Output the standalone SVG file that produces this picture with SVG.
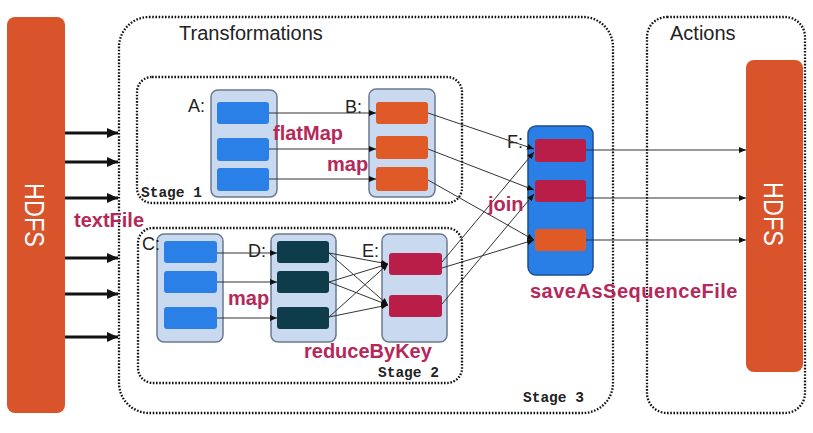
<svg xmlns="http://www.w3.org/2000/svg" width="813" height="433" viewBox="0 0 813 433">
<defs>
<style>
.hdfs{fill:#d9532b}
.cont{fill:#c9d9f0;stroke:#6b7a8f;stroke-width:1.5}
.fcont{fill:#2a7fe6;stroke:#1b4f93;stroke-width:1.5}
.blue{fill:#2b80e8}
.orange{fill:#e05a28}
.crimson{fill:#b81e48}
.teal{fill:#0e3c4b}
.dot{fill:none;stroke:#111;stroke-width:2.3;stroke-dasharray:1.6 1.6}
.lbl{font-family:"Liberation Sans",Arial,sans-serif;font-weight:bold;font-size:20px;fill:#b5285a}
.let{font-family:"Liberation Sans",Arial,sans-serif;font-size:18px;fill:#222}
.title{font-family:"Liberation Sans",Arial,sans-serif;font-size:20px;fill:#222}
.stage{font-family:"Liberation Mono","Courier New",monospace;font-weight:bold;font-size:14.5px;fill:#222}
.ht{font-family:"Liberation Sans",Arial,sans-serif;font-size:23.5px;fill:#fff}
.thin{stroke:#333;stroke-width:1;fill:none}
.thick{stroke:#111;stroke-width:3;fill:none}
</style>
<marker id="ah" markerUnits="userSpaceOnUse" markerWidth="8" markerHeight="6" refX="7" refY="3" orient="auto">
<path d="M0,0 L7,3 L0,6 z" fill="#111"/>
</marker>
<marker id="ahb" markerUnits="userSpaceOnUse" markerWidth="12" markerHeight="10" refX="11" refY="5" orient="auto">
<path d="M0,0 L11,5 L0,10 z" fill="#111"/>
</marker>
</defs>
<rect width="813" height="433" fill="#fff"/>

<g id="transformations">
<rect class="dot" x="119" y="17" width="494" height="396" rx="30"/>
<text class="title" x="179" y="40">Transformations</text>
<text class="stage" x="523" y="402">Stage 3</text>
</g>
<g id="actions">
<rect class="dot" x="647" y="17" width="158" height="396" rx="20"/>
<text class="title" x="670" y="40">Actions</text>
</g>
<g id="stage1">
<rect class="dot" x="137" y="77" width="325" height="126" rx="15"/>
<text class="stage" x="141" y="197">Stage 1</text>
</g>
<g id="stage2">
<rect class="dot" x="138" y="228" width="324" height="155" rx="15"/>
<text class="stage" x="378" y="377">Stage 2</text>
</g>

<g id="hdfs-in">
<rect class="hdfs" x="7" y="17" width="58" height="396" rx="8"/>
<text class="ht" text-anchor="middle" dominant-baseline="central" transform="translate(35,215) rotate(90) scale(1,1.2)">HDFS</text>
</g>
<g id="hdfs-out">
<rect class="hdfs" x="746" y="60" width="57" height="312" rx="8"/>
<text class="ht" text-anchor="middle" dominant-baseline="central" transform="translate(774,214) rotate(90) scale(1,1.2)">HDFS</text>
</g>

<g id="A">
<rect class="cont" x="211" y="90" width="66" height="107" rx="7"/>
<rect class="blue" x="217" y="102" width="52" height="22" rx="3"/>
<rect class="blue" x="217" y="138" width="52" height="23" rx="3"/>
<rect class="blue" x="217" y="168" width="52" height="23" rx="3"/>
<text class="let" x="188" y="112">A:</text>
</g>
<g id="B">
<rect class="cont" x="369" y="89" width="66" height="108" rx="7"/>
<rect class="orange" x="376" y="102" width="52" height="22" rx="3"/>
<rect class="orange" x="376" y="136" width="52" height="23" rx="3"/>
<rect class="orange" x="376" y="167" width="52" height="24" rx="3"/>
<text class="let" x="345" y="113">B:</text>
</g>
<g id="C">
<rect class="cont" x="157" y="234" width="66" height="108" rx="7"/>
<rect class="blue" x="164" y="241" width="53" height="22" rx="3"/>
<rect class="blue" x="164" y="271" width="53" height="22" rx="3"/>
<rect class="blue" x="164" y="307" width="53" height="22" rx="3"/>
<text class="let" x="142" y="250">C:</text>
</g>
<g id="D">
<rect class="cont" x="271" y="234" width="65" height="108" rx="7"/>
<rect class="teal" x="277" y="241" width="52" height="22" rx="3"/>
<rect class="teal" x="277" y="271" width="52" height="22" rx="3"/>
<rect class="teal" x="277" y="307" width="52" height="22" rx="3"/>
<text class="let" x="248" y="257">D:</text>
</g>
<g id="E">
<rect class="cont" x="382" y="234" width="65" height="108" rx="7"/>
<rect class="crimson" x="389" y="253" width="53" height="22" rx="3"/>
<rect class="crimson" x="389" y="295" width="53" height="22" rx="3"/>
<text class="let" x="362" y="257">E:</text>
</g>
<g id="F">
<rect class="fcont" x="528" y="126" width="65" height="149" rx="8"/>
<rect class="crimson" x="535" y="139" width="51" height="23" rx="3"/>
<rect class="crimson" x="535" y="180" width="51" height="22" rx="3"/>
<rect class="orange" x="535" y="229" width="51" height="22" rx="3"/>
<text class="let" x="507" y="148">F:</text>
</g>

<g id="connectors">
<line class="thick" x1="65" y1="133" x2="118" y2="133" marker-end="url(#ahb)"/>
<line class="thick" x1="65" y1="162" x2="118" y2="162" marker-end="url(#ahb)"/>
<line class="thick" x1="65" y1="198" x2="118" y2="198" marker-end="url(#ahb)"/>
<line class="thick" x1="65" y1="258" x2="118" y2="258" marker-end="url(#ahb)"/>
<line class="thick" x1="65" y1="294" x2="118" y2="294" marker-end="url(#ahb)"/>
<line class="thick" x1="65" y1="337" x2="118" y2="337" marker-end="url(#ahb)"/>

<line class="thin" x1="269" y1="113" x2="376" y2="113" marker-end="url(#ah)"/>
<line class="thin" x1="269" y1="149" x2="376" y2="149" marker-end="url(#ah)"/>
<line class="thin" x1="269" y1="179" x2="376" y2="179" marker-end="url(#ah)"/>

<line class="thin" x1="217" y1="253" x2="277" y2="253" marker-end="url(#ah)"/>
<line class="thin" x1="217" y1="282" x2="277" y2="282" marker-end="url(#ah)"/>
<line class="thin" x1="217" y1="318" x2="277" y2="318" marker-end="url(#ah)"/>

<line class="thin" x1="329" y1="253" x2="388" y2="264" marker-end="url(#ah)"/>
<line class="thin" x1="329" y1="253" x2="388" y2="305" marker-end="url(#ah)"/>
<line class="thin" x1="329" y1="282" x2="388" y2="264" marker-end="url(#ah)"/>
<line class="thin" x1="329" y1="282" x2="388" y2="305" marker-end="url(#ah)"/>
<line class="thin" x1="329" y1="317" x2="388" y2="264" marker-end="url(#ah)"/>
<line class="thin" x1="329" y1="317" x2="388" y2="305" marker-end="url(#ah)"/>

<line class="thin" x1="428" y1="113" x2="534" y2="149" marker-end="url(#ah)"/>
<line class="thin" x1="428" y1="149" x2="534" y2="190" marker-end="url(#ah)"/>
<line class="thin" x1="428" y1="180" x2="534" y2="240" marker-end="url(#ah)"/>
<line class="thin" x1="442" y1="262" x2="534" y2="152" marker-end="url(#ah)"/>
<line class="thin" x1="442" y1="268" x2="534" y2="240" marker-end="url(#ah)"/>
<line class="thin" x1="442" y1="304" x2="534" y2="194" marker-end="url(#ah)"/>

<line class="thin" x1="586" y1="150" x2="746" y2="150" marker-end="url(#ah)"/>
<line class="thin" x1="586" y1="198" x2="746" y2="198" marker-end="url(#ah)"/>
<line class="thin" x1="586" y1="240" x2="746" y2="240" marker-end="url(#ah)"/>
</g>

<g id="labels">
<text class="lbl" x="273" y="140">flatMap</text>
<text class="lbl" x="327" y="171">map</text>
<text class="lbl" x="488" y="211">join</text>
<text class="lbl" x="74" y="227">textFile</text>
<text class="lbl" x="228" y="305">map</text>
<text class="lbl" x="304" y="358">reduceByKey</text>
<text class="lbl" x="530" y="298" letter-spacing="0.5">saveAsSequenceFile</text>
</g>
</svg>
